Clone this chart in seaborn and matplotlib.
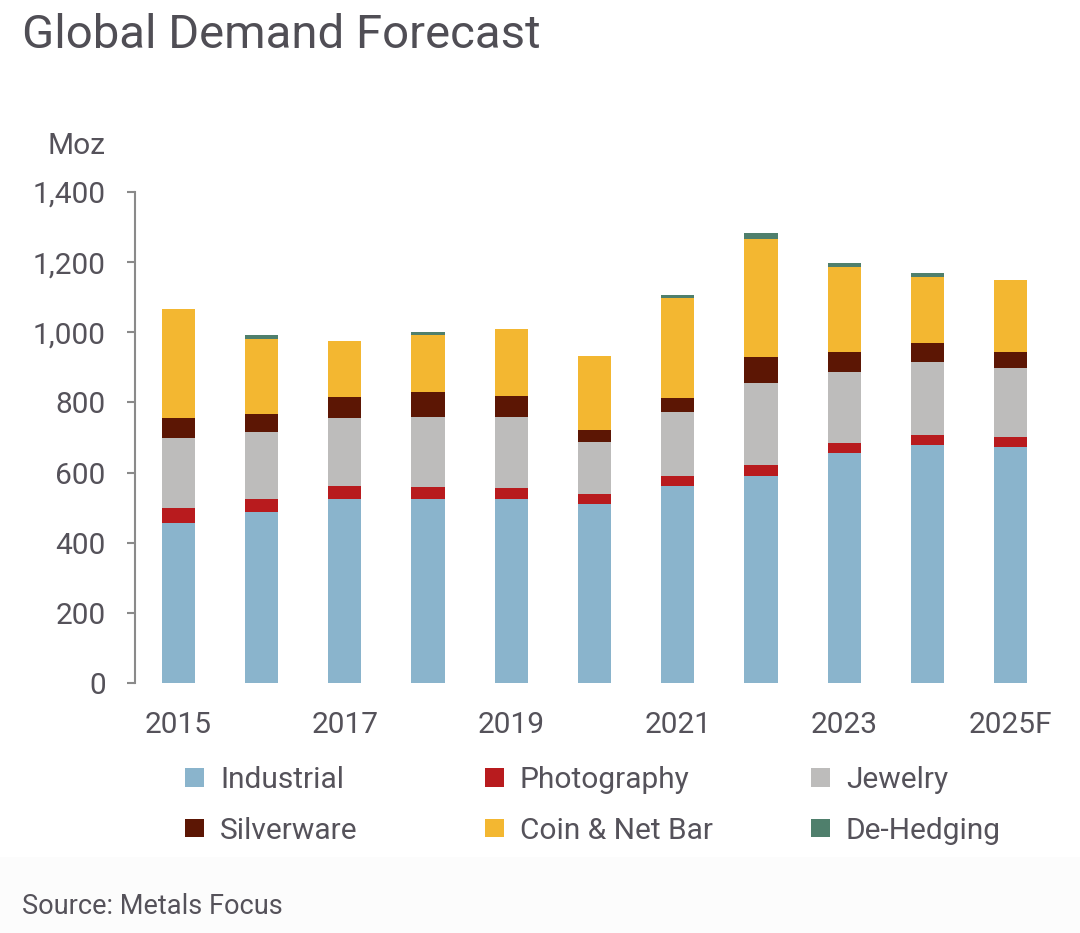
import matplotlib.pyplot as plt
import matplotlib.patches as mpatches
import seaborn as sns
import numpy as np

# Silver demand by segment, Moz
years = ["2015", "2016", "2017", "2018", "2019", "2020",
         "2021", "2022", "2023", "2024", "2025F"]
shown_years = ["2015", "", "2017", "", "2019", "", "2021", "", "2023", "", "2025F"]

industrial = [456, 488, 525, 524, 524, 510, 563, 591, 655, 679, 674]
photography = [43, 37, 37, 34, 33, 29, 28, 31, 30, 28, 28]
jewelry = [200, 190, 194, 201, 202, 149, 181, 233, 201, 208, 195]
silverware = [57, 52, 60, 70, 60, 33, 41, 75, 57, 55, 48]
coin_bar = [310, 214, 159, 163, 190, 211, 284, 336, 242, 187, 204]
dehedging = [0, 12, 0, 10, 0, 0, 10, 17, 13, 11, 0]

segments = ["Industrial", "Photography", "Jewelry", "Silverware", "Coin & Net Bar", "De-Hedging"]
colors = ["#8ab4cc", "#b81b1e", "#bdbcbb", "#5c1604", "#f3b731", "#4f7f6c"]
series = [industrial, photography, jewelry, silverware, coin_bar, dehedging]

sns.set_style("white")
plt.rcParams['font.family'] = ['Roboto', 'DejaVu Sans']
text_col = "#55525a"
fs = 21.5

fig = plt.figure(figsize=(10.8, 9.33), dpi=100)
ax = fig.add_axes([135 / 1080, 250 / 933, (1054 - 135) / 1080, 491 / 933])

bottom = np.zeros(len(years))
for name, col, vals in zip(segments, colors, series):
    sns.barplot(x=years, y=vals, bottom=bottom, color=col, width=0.4,
                saturation=1, errorbar=None, linewidth=0, ax=ax)
    bottom = bottom + np.array(vals)

ax.set_ylim(0, 1400)
ax.set_xlim(-0.52, 10.52)
ax.set_yticks(range(0, 1401, 200))
ax.set_yticklabels([f"{v:,}" for v in range(0, 1401, 200)])
ax.set_xticks(range(len(years)))
ax.set_xticklabels(shown_years)
ax.set_xlabel("")
ax.set_ylabel("")

for s in ["top", "right", "bottom"]:
    ax.spines[s].set_visible(False)
ax.spines["left"].set_color("#8a8a8a")
ax.spines["left"].set_linewidth(1.5)
ax.tick_params(axis="y", length=6, width=1.5, color="#8a8a8a", pad=15,
               labelsize=fs, labelcolor=text_col, direction="out", left=True)
ax.tick_params(axis="x", length=0, pad=20, labelsize=fs, labelcolor=text_col)

fig.text(22 / 1080, 1 - 35 / 933, "Global Demand Forecast", fontsize=34,
         fontweight="normal", color="#504e55", va="center", ha="left")
fig.text(105 / 1080, 1 - 146 / 933, "Moz", fontsize=fs, color=text_col,
         va="center", ha="right")

# very pale footer band
fig.patches.append(mpatches.Rectangle((0, 0), 1, 76 / 933, transform=fig.transFigure,
                                      facecolor="#fcfcfc", edgecolor="none", zorder=0))
fig.text(22 / 1080, 1 - 906 / 933, "Source: Metals Focus", fontsize=19.5,
         color=text_col, va="center", ha="left")

# legend: three columns of two entries each
col_x = [185, 485, 811]
for c in range(3):
    handles = []
    for r in range(2):
        i = r * 3 + c
        handles.append(mpatches.Patch(facecolor=colors[i], edgecolor="none", label=segments[i]))
    fig.legend(handles=handles, loc="upper left",
               bbox_to_anchor=(col_x[c] / 1080, 1 - 766 / 933),
               frameon=False, fontsize=fs, labelcolor=text_col,
               handlelength=0.62, handleheight=0.58, handletextpad=0.55,
               labelspacing=0.76, borderpad=0, borderaxespad=0)

fig.savefig("out.png", dpi=100)
